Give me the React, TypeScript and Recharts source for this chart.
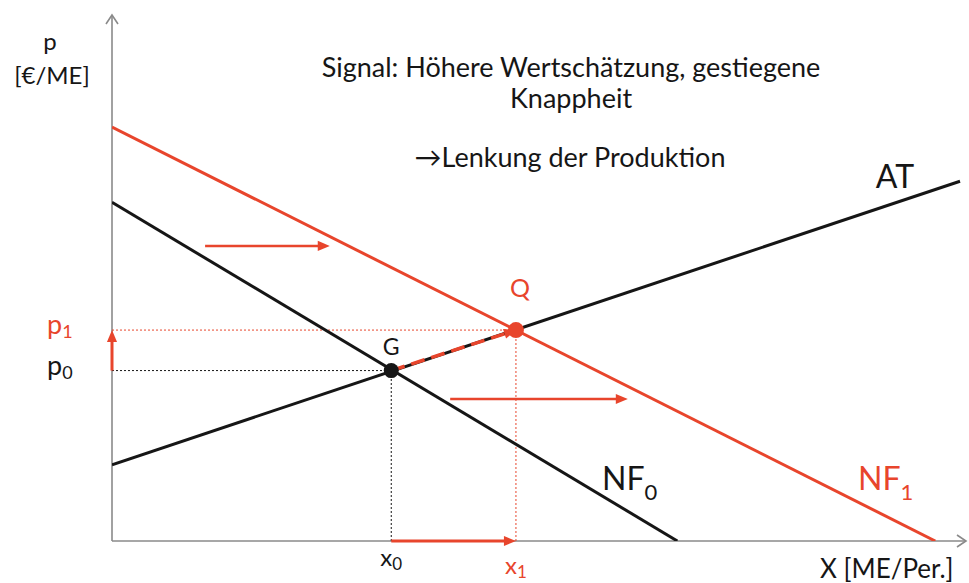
import { ComposedChart, Line, XAxis, YAxis, ReferenceLine, ReferenceDot } from 'recharts';

const RED = '#E8452C';
const INK = '#161616';
const AXIS = '#8a8a8a';
const FONT = 'Lato, "Open Sans", sans-serif';

// equilibrium quantities and prices
const xTicks = [32.7, 47.3]; // x0, x1
const yTicks = [32.4, 40.1]; // p0, p1
const xTickNames = ['x', 'x'];
const yTickNames = ['p', 'p'];

// curves
const lineAT = [{ x: 0, y: 14.5 }, { x: 99.3, y: 68.4 }];
const lineNF0 = [{ x: 0, y: 64.4 }, { x: 66.2, y: 0 }];
const lineNF1 = [{ x: 0, y: 78.7 }, { x: 96.4, y: 0 }];

const pointG = { x: 32.7, y: 32.4 };
const pointQ = { x: 47.3, y: 40.1 };

// demand shift arrows
const shiftUpper = [{ x: 10.9, y: 56.1 }, { x: 25.5, y: 56.1 }];
const shiftLower = [{ x: 39.6, y: 27.0 }, { x: 60.4, y: 27.0 }];

const arrowShape = (color: string, width: number, dash?: string, head = 12) => (props: any) => {
  const { x1, y1, x2, y2 } = props;
  const dx = x2 - x1;
  const dy = y2 - y1;
  const len = Math.hypot(dx, dy) || 1;
  const ux = dx / len;
  const uy = dy / len;
  const bx = x2 - ux * head;
  const by = y2 - uy * head;
  const hw = head * 0.42;
  const pts = `${x2},${y2} ${bx - uy * hw},${by + ux * hw} ${bx + uy * hw},${by - ux * hw}`;
  return (
    <g>
      <line x1={x1} y1={y1} x2={bx + ux} y2={by + uy} stroke={color} strokeWidth={width} strokeDasharray={dash} />
      <polygon points={pts} fill={color} />
    </g>
  );
};

const axisShape = (props: any) => {
  const { x1, y1, x2, y2 } = props;
  const dx = x2 - x1;
  const dy = y2 - y1;
  const len = Math.hypot(dx, dy) || 1;
  const ux = dx / len;
  const uy = dy / len;
  const bx = x2 - ux * 9;
  const by = y2 - uy * 9;
  const hw = 6;
  return (
    <g>
      <line x1={x1} y1={y1} x2={x2} y2={y2} stroke={AXIS} strokeWidth={1.6} />
      <polyline
        points={`${bx - uy * hw},${by + ux * hw} ${x2},${y2} ${bx + uy * hw},${by - ux * hw}`}
        fill="none"
        stroke={AXIS}
        strokeWidth={1.6}
      />
    </g>
  );
};

const PTick = (props: any) => {
  const { x, y, payload } = props;
  const i = yTicks.indexOf(payload.value);
  return (
    <text x={x - 65} y={y + 4} fill={i === 1 ? RED : INK} fontSize={27} fontFamily={FONT}>
      {yTickNames[i]}
      <tspan fontSize={18} dy={4}>{i}</tspan>
    </text>
  );
};

const XTick = (props: any) => {
  const { x, y, payload } = props;
  const i = xTicks.indexOf(payload.value);
  return (
    <text x={x} y={y + (i === 1 ? 33 : 25)} textAnchor="middle" fill={i === 1 ? RED : INK} fontSize={24} fontFamily={FONT}>
      {xTickNames[i]}
      <tspan fontSize={17} dy={4}>{i}</tspan>
    </text>
  );
};

export default function App() {
  return (
    <div style={{ position: 'absolute', left: 0, top: 0, width: 969, height: 583, background: '#fff', fontFamily: FONT }}>
      <ComposedChart width={969} height={583} margin={{ top: 15, right: 3, bottom: 0, left: 0 }}>
        <XAxis
          type="number"
          dataKey="x"
          domain={[0, 100]}
          ticks={xTicks}
          interval={0}
          height={42}
          axisLine={false}
          tickLine={false}
          tickSize={0}
          tickMargin={0}
          tick={<XTick />}
          allowDataOverflow
        />
        <YAxis
          type="number"
          dataKey="y"
          domain={[0, 100]}
          ticks={yTicks}
          interval={0}
          width={112}
          axisLine={false}
          tickLine={false}
          tickSize={0}
          tickMargin={0}
          tick={<PTick />}
          allowDataOverflow
        />

        <ReferenceLine segment={[{ x: 0, y: 0 }, { x: 100, y: 0 }]} shape={axisShape} ifOverflow="visible" />
        <ReferenceLine segment={[{ x: 0, y: 0 }, { x: 0, y: 100 }]} shape={axisShape} ifOverflow="visible" />

        <ReferenceLine segment={[{ x: 0, y: pointG.y }, pointG]} stroke={INK} strokeWidth={1} strokeDasharray="2 2" />
        <ReferenceLine segment={[{ x: pointG.x, y: 0 }, pointG]} stroke={INK} strokeWidth={1} strokeDasharray="2 2" />
        <ReferenceLine segment={[{ x: 0, y: pointQ.y }, pointQ]} stroke={RED} strokeWidth={1} strokeDasharray="2 2" />
        <ReferenceLine segment={[{ x: pointQ.x, y: 0 }, pointQ]} stroke={RED} strokeWidth={1} strokeDasharray="2 2" />

        <Line data={lineNF0} dataKey="y" type="linear" stroke={INK} strokeWidth={3} dot={false} activeDot={false} isAnimationActive={false} />
        <Line data={lineAT} dataKey="y" type="linear" stroke={INK} strokeWidth={3} dot={false} activeDot={false} isAnimationActive={false} />
        <Line data={lineNF1} dataKey="y" type="linear" stroke={RED} strokeWidth={3} dot={false} activeDot={false} isAnimationActive={false} />

        <ReferenceLine segment={[pointG, pointQ]} shape={arrowShape(RED, 3.5, '14 7', 12)} />
        <ReferenceLine segment={shiftUpper} shape={arrowShape(RED, 2.5)} />
        <ReferenceLine segment={shiftLower} shape={arrowShape(RED, 2.5)} />
        <ReferenceLine segment={[{ x: 0, y: pointG.y }, { x: 0, y: pointQ.y }]} shape={arrowShape(RED, 3)} ifOverflow="visible" />
        <ReferenceLine segment={[{ x: pointG.x, y: 0 }, { x: pointQ.x, y: 0 }]} shape={arrowShape(RED, 3)} ifOverflow="visible" />

        <ReferenceDot
          x={pointG.x}
          y={pointG.y}
          r={7.5}
          fill={INK}
          stroke="none"
          label={{ value: 'G', position: 'top', offset: 8, fill: INK, fontSize: 23 }}
        />
        <ReferenceDot
          x={pointQ.x}
          y={pointQ.y}
          r={8}
          fill={RED}
          stroke="none"
          label={{ value: 'Q', position: 'top', offset: 25, fill: RED, fontSize: 25, dx: 4 }}
        />
      </ComposedChart>

      <svg width={969} height={583} style={{ position: 'absolute', left: 0, top: 0, pointerEvents: 'none' }}>
        <g fontFamily={FONT} fill={INK}>
          <text x={50} y={50} textAnchor="middle" fontSize={24}>p</text>
          <text x={52} y={84} textAnchor="middle" fontSize={24}>[€/ME]</text>
          <text x={571} y={77} textAnchor="middle" fontSize={27}>Signal: Höhere Wertschätzung, gestiegene</text>
          <text x={571} y={108} textAnchor="middle" fontSize={27}>Knappheit</text>
          <text x={570} y={167} textAnchor="middle" fontSize={27}>→Lenkung der Produktion</text>
          <text x={895} y={188} textAnchor="middle" fontSize={32}>AT</text>
          <text x={602} y={490} fontSize={32}>
            NF<tspan fontSize={22} dy={10}>0</tspan>
          </text>
          <text x={858} y={490} fontSize={32} fill={RED}>
            NF<tspan fontSize={22} dy={10}>1</tspan>
          </text>
          <text x={820} y={578} fontSize={26}>X [ME/Per.]</text>
        </g>
      </svg>
    </div>
  );
}
